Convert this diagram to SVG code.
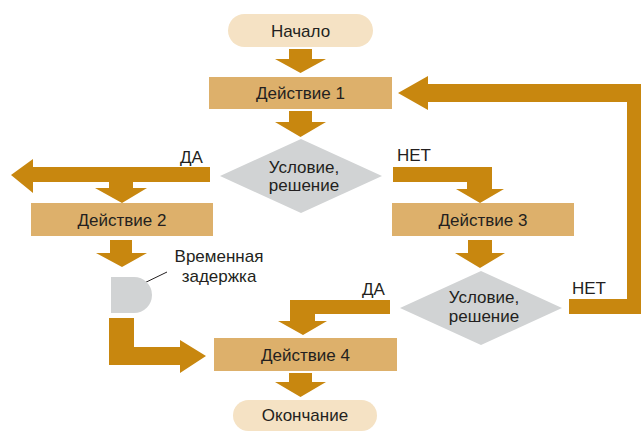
<svg xmlns="http://www.w3.org/2000/svg" width="642" height="431" viewBox="0 0 642 431">
<style>
.arrow{fill:#c8870f;stroke:none}
.box{fill:#ddb06b}
.pill{fill:#f5e2c4}
.dia{fill:#d1d3d4}
text{font-family:"Liberation Sans",Arial,sans-serif;font-size:17px;fill:#231f20;text-anchor:middle}
.lbl{text-anchor:start}
</style>
<rect width="642" height="431" fill="#ffffff"/>
<g id="connectors">
<polygon class="arrow" points="289,49 312,49 312,59 326,59 300.5,73 275,59 289,59"/>
<polygon class="arrow" points="289,111 312,111 312,122 326,122 300.5,137 275,122 289,122"/>
<polygon class="arrow" points="210,167 33,167 33,159 11,175 33,193 33,182 109,182 109,188 95,188 122,203 147,188 133,188 133,182 210,182"/>
<polygon class="arrow" points="393,167 492,167 492,189 504,189 480,203 456,189 467,189 467,182 393,182"/>
<polygon class="arrow" points="110,240 132,240 132,253 147,253 122,267 96,253 110,253"/>
<polygon class="arrow" points="468,240 492,240 492,253 505,253 480,268 455,253 468,253"/>
<polygon class="arrow" points="109,318 134,318 134,347 180,347 180,340 206,356 180,373 180,365 109,365"/>
<polygon class="arrow" points="390,300 390,314 315,314 315,321 327,321 303,335 278,321 290,321 290,300"/>
<polygon class="arrow" points="569,299 627,299 627,102 428,102 428,110 398,93 428,76 428,84 641,84 641,314 569,314"/>
<polygon class="arrow" points="289,373 312,373 312,382 326,382 300.5,397 275,382 289,382"/>
<line x1="134" y1="288" x2="167" y2="272" stroke="#231f20" stroke-width="1"/>
<text class="lbl" x="180" y="163">ДА</text>
<text class="lbl" x="397" y="161">НЕТ</text>
<text class="lbl" x="362" y="295">ДА</text>
<text class="lbl" x="572" y="294">НЕТ</text>
</g>
<g id="start">
<rect class="pill" x="228" y="14" width="145" height="33" rx="16.5"/>
<text x="300.5" y="37">Начало</text>
</g>
<g id="action1">
<rect class="box" x="209" y="77" width="183" height="32"/>
<text x="300.5" y="99">Действие 1</text>
</g>
<g id="decision1">
<polygon class="dia" points="301,139 382,176 301,213 220,176"/>
<text x="304" y="173">Условие,</text>
<text x="304" y="191">решение</text>
</g>
<g id="action2">
<rect class="box" x="31" y="203" width="182" height="33"/>
<text x="122" y="225.5">Действие 2</text>
</g>
<g id="action3">
<rect class="box" x="392" y="203" width="182" height="33"/>
<text x="483" y="225.5">Действие 3</text>
</g>
<g id="delay">
<path class="dia" d="M111,277 H134 A18,18 0 0 1 134,313 H111 Z"/>
<text x="219" y="262">Временная</text>
<text x="219" y="282">задержка</text>
</g>
<g id="decision2">
<polygon class="dia" points="481,271 562,308 481,345 400,308"/>
<text x="484" y="303">Условие,</text>
<text x="484" y="322">решение</text>
</g>
<g id="action4">
<rect class="box" x="214" y="338" width="183" height="33"/>
<text x="305.5" y="360.5">Действие 4</text>
</g>
<g id="end">
<rect class="pill" x="233" y="400" width="144" height="31" rx="15.5"/>
<text x="305" y="421">Окончание</text>
</g>
</svg>
